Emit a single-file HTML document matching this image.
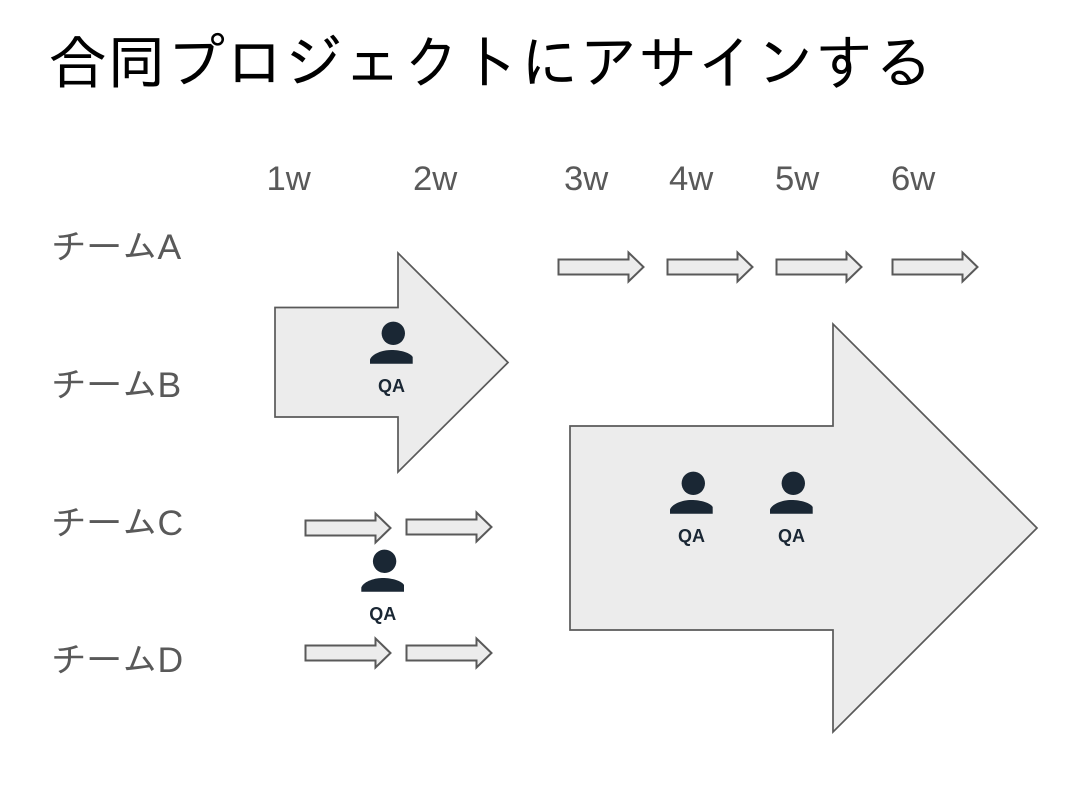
<!DOCTYPE html>
<html lang="ja">
<head>
<meta charset="utf-8">
<style>
html,body{margin:0;padding:0;background:#fff;width:1086px;height:790px;overflow:hidden}
svg{display:block}
.t{font-family:"Liberation Sans","IPAGothic",sans-serif}
</style>
</head>
<body>
<svg width="1086" height="790" viewBox="0 0 1086 790" xmlns="http://www.w3.org/2000/svg">
<rect width="1086" height="790" fill="#fff"/>
<defs>
<g id="sa"><path d="M0.5 -7.5H70.5V-14.5L85.5 0L70.5 14.5V7.5H0.5Z" fill="#ececec" stroke="#595959" stroke-width="2"/></g>
<g id="p">
<circle cx="393.3" cy="333.3" r="11.7" fill="#1a2734"/>
<path d="M370 363.7V359.5C372 354 382 350 391.3 350C401 350 410.5 353 412.7 357V363.7Z" fill="#1a2734"/>
<text class="t" x="391.5" y="392" font-size="18" font-weight="700" fill="#1a2734" text-anchor="middle">QA</text>
</g>
</defs>

<text class="t" x="48" y="83.5" font-size="59" fill="#000">合同プロジェクトにアサインする</text>

<g class="t" font-size="34.67" fill="#595959">
<text x="266.5" y="190">1w</text>
<text x="413" y="190">2w</text>
<text x="564" y="190">3w</text>
<text x="669" y="190">4w</text>
<text x="775" y="190">5w</text>
<text x="891" y="190">6w</text>
</g>
<g class="t" font-size="35.5" fill="#595959">
<text x="51" y="259">チームA</text>
<text x="51" y="397">チームB</text>
<text x="51" y="535">チームC</text>
<text x="51" y="672">チームD</text>
</g>

<path d="M275 307.5H398V253L508 362.5L398 472V417H275Z" fill="#ececec" stroke="#595959" stroke-width="1.7"/>
<path d="M570 426H833V324L1037 528L833 732V630H570Z" fill="#ececec" stroke="#595959" stroke-width="1.7"/>

<use href="#sa" x="558" y="267"/>
<use href="#sa" x="667" y="267"/>
<use href="#sa" x="776" y="267"/>
<use href="#sa" x="892" y="267"/>
<use href="#sa" x="305" y="528"/>
<use href="#sa" x="406" y="527"/>
<use href="#sa" x="305" y="653"/>
<use href="#sa" x="406" y="653"/>

<use href="#p"/>
<use href="#p" x="-8.7" y="228"/>
<use href="#p" x="300" y="150"/>
<use href="#p" x="400" y="150"/>
</svg>
</body>
</html>
